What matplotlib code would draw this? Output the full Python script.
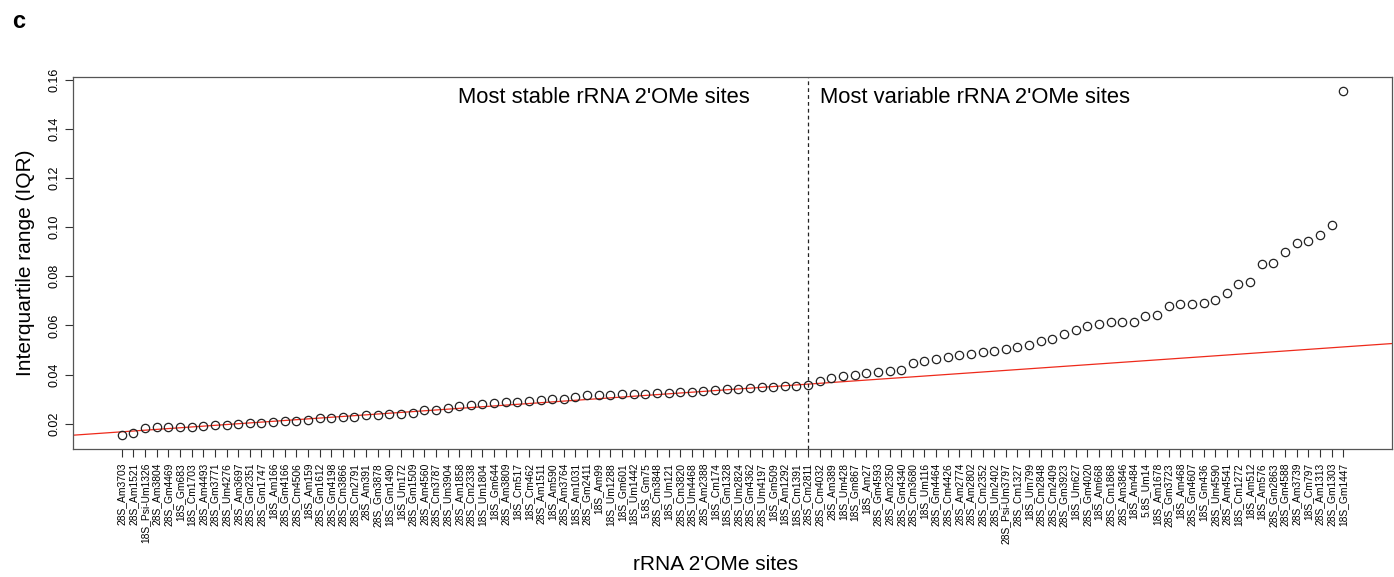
import matplotlib
matplotlib.use("Agg")
import matplotlib.pyplot as plt
import numpy as np

plt.rcParams['font.family'] = ['Liberation Sans', 'DejaVu Sans']

sites = [
    "28S_Am3703", "28S_Am1521", "18S_Psi-Um1326", "28S_Am3804", "28S_Gm4469",
    "18S_Gm683", "18S_Cm1703", "28S_Am4493", "28S_Gm3771", "28S_Um4276",
    "28S_Am3697", "28S_Gm2351", "28S_Gm1747", "18S_Am166", "28S_Gm4166",
    "28S_Cm4506", "18S_Am159", "28S_Gm1612", "28S_Gm4198", "28S_Cm3866",
    "28S_Cm2791", "28S_Am391", "28S_Gm3878", "18S_Gm1490", "18S_Um172",
    "28S_Gm1509", "28S_Am4560", "28S_Cm3787", "28S_Um3904", "28S_Am1858",
    "28S_Cm2338", "18S_Um1804", "18S_Gm644", "28S_Am3809", "18S_Cm517",
    "18S_Cm462", "28S_Am1511", "18S_Am590", "28S_Am3764", "18S_Am1031",
    "28S_Gm2411", "18S_Am99", "18S_Um1288", "18S_Gm601", "18S_Um1442",
    "5.8S_Gm75", "28S_Cm3848", "18S_Um121", "28S_Cm3820", "28S_Um4468",
    "28S_Am2388", "18S_Cm174", "18S_Gm1328", "28S_Um2824", "28S_Gm4362",
    "28S_Um4197", "18S_Gm509", "18S_Am1292", "18S_Cm1391", "28S_Cm2811",
    "28S_Cm4032", "28S_Am389", "18S_Um428", "18S_Gm867", "18S_Am27",
    "28S_Gm4593", "28S_Am2350", "28S_Gm4340", "28S_Cm3680", "18S_Um116",
    "28S_Gm4464", "28S_Cm4426", "28S_Am2774", "28S_Am2802", "28S_Cm2352",
    "28S_Um2402", "28S_Psi-Um3797", "28S_Cm1327", "18S_Um799", "28S_Cm2848",
    "28S_Cm2409", "28S_Gm3923", "18S_Um627", "28S_Gm4020", "18S_Am668",
    "28S_Cm1868", "28S_Am3846", "18S_Am484", "5.8S_Um14", "18S_Am1678",
    "28S_Gm3723", "18S_Am468", "28S_Gm4607", "18S_Gm436", "28S_Um4590",
    "28S_Am4541", "18S_Cm1272", "18S_Am512", "18S_Am576", "28S_Gm2863",
    "28S_Gm4588", "28S_Am3739", "18S_Cm797", "28S_Am1313", "28S_Gm1303",
    "18S_Gm1447",
]

iqr = [
    0.0153, 0.0163, 0.0181, 0.0185, 0.0187, 0.0187, 0.0187, 0.0189, 0.0195, 0.0196,
    0.0197, 0.0203, 0.0204, 0.0205, 0.0209, 0.0211, 0.0216, 0.0223, 0.0224, 0.0226,
    0.0227, 0.0234, 0.0235, 0.0238, 0.0238, 0.0244, 0.0254, 0.0256, 0.0265, 0.0270,
    0.0278, 0.0280, 0.0283, 0.0287, 0.0290, 0.0293, 0.0295, 0.0300, 0.0302, 0.0310,
    0.0315, 0.0318, 0.0318, 0.0320, 0.0320, 0.0322, 0.0323, 0.0325, 0.0327, 0.0330,
    0.0335, 0.0337, 0.0340, 0.0342, 0.0345, 0.0348, 0.0350, 0.0352, 0.0355, 0.0358,
    0.0375, 0.0387, 0.0393, 0.0398, 0.0405, 0.0410, 0.0413, 0.0420, 0.0445, 0.0455,
    0.0462, 0.0470, 0.0480, 0.0485, 0.0490, 0.0495, 0.0502, 0.0512, 0.0522, 0.0535,
    0.0545, 0.0565, 0.0582, 0.0597, 0.0607, 0.0612, 0.0612, 0.0614, 0.0640, 0.0642,
    0.0677, 0.0686, 0.0688, 0.0690, 0.0705, 0.0730, 0.0770, 0.0777, 0.0848, 0.0853,
    0.0897, 0.0935, 0.0942, 0.0969, 0.1010, 0.1555,
]

fit_intercept = 0.01636
fit_slope = 0.000329
split_at = 60
yticks = [0.02, 0.04, 0.06, 0.08, 0.10, 0.12, 0.14, 0.16]

x = np.arange(1, len(iqr) + 1)

fig = plt.figure(figsize=(13.94, 5.77), dpi=100)
ax = fig.add_axes([73 / 1394, 1 - 449 / 577, (1392 - 73) / 1394, (449 - 77) / 577])

ax.plot(x, iqr, linestyle='none', marker='o', markersize=6, markerfacecolor='none',
        markeredgecolor='#222222', markeredgewidth=0.9, zorder=3)
ax.axline((0, fit_intercept), slope=fit_slope, color='#ee2a1b', lw=0.9, zorder=2)
ax.axvline(split_at, color='#222222', lw=0.9, linestyle=(0, (3, 2.5)), zorder=2)

n = len(iqr)
ext = 0.04 * (n - 1)
ax.set_xlim(1 - ext, n + ext)
lo, hi = min(iqr), max(iqr)
ax.set_ylim(lo - 0.04 * (hi - lo), hi + 0.04 * (hi - lo))

ax.set_xticks(x)
ax.set_xticklabels(sites, rotation=90, fontsize=7.4)
ax.set_yticks(yticks)
ax.set_yticklabels([f"{t:.2f}" for t in yticks], rotation=90, va='center', fontsize=9)
ax.tick_params(axis='both', direction='out', length=6, width=0.8, color='#333333')
ax.tick_params(axis='x', pad=4)
ax.tick_params(axis='y', pad=3)
for s in ax.spines.values():
    s.set_color('#555555')
    s.set_linewidth(0.9)

ax.text(split_at - 5.0, 0.1528, "Most stable rRNA 2'OMe sites", ha='right', va='center', fontsize=15.8)
ax.text(split_at + 1.0, 0.1528, "Most variable rRNA 2'OMe sites", ha='left', va='center', fontsize=15.8)

ax.set_ylabel("Interquartile range (IQR)", fontsize=15, labelpad=10)
fig.text(716 / 1394, 1 - 565 / 577, "rRNA 2'OMe sites", ha='center', va='center', fontsize=15)
fig.text(12 / 1394, 1 - 22 / 577, "c", ha='left', va='center', fontsize=17, fontweight='bold')

fig.savefig("out.png", dpi=100)
